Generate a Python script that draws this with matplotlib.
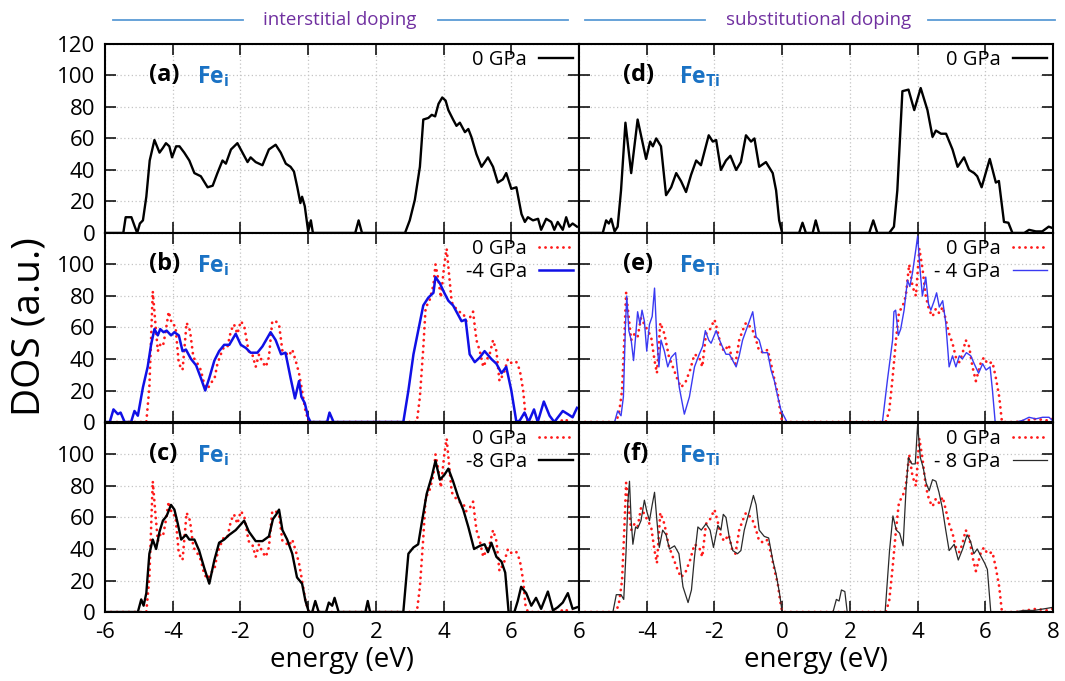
import matplotlib
matplotlib.use('Agg')
import matplotlib.pyplot as plt
from matplotlib.lines import Line2D

plt.rcParams['font.family'] = ['Open Sans', 'DejaVu Sans']
plt.rcParams['mathtext.fontset'] = 'custom'
plt.rcParams['mathtext.rm'] = 'Open Sans'
plt.rcParams['mathtext.bf'] = 'Open Sans:bold'

# DOS curves, (energy eV, DOS a.u.)
fei_0gpa_a = [(-6.0, 0), (-5.46, 0), (-5.39, 10), (-5.22, 10), (-5.12, 4), (-5.05, 0), (-4.97, 6), (-4.88, 8),
              (-4.78, 23), (-4.68, 46), (-4.54, 59), (-4.39, 51), (-4.29, 54), (-4.2, 57), (-4.1, 55), (-4.02, 48),
              (-3.9, 55), (-3.8, 55), (-3.66, 51), (-3.51, 46), (-3.36, 38), (-3.17, 36), (-2.97, 29), (-2.82, 30),
              (-2.68, 38), (-2.53, 46), (-2.43, 44), (-2.28, 53), (-2.09, 57), (-1.94, 51), (-1.79, 45), (-1.7, 48),
              (-1.55, 45), (-1.35, 43), (-1.16, 53), (-0.96, 56), (-0.81, 51), (-0.66, 44), (-0.52, 42), (-0.42, 39),
              (-0.32, 29), (-0.23, 19), (-0.18, 23), (-0.1, 17), (0.0, 1), (0.08, 8), (0.14, 0), (1.39, 0), (1.49, 8),
              (1.59, 0), (2.86, 0), (3.0, 8), (3.15, 21), (3.3, 42), (3.4, 72), (3.55, 73), (3.65, 75), (3.75, 74),
              (3.85, 82), (3.96, 86), (4.06, 84), (4.14, 78), (4.28, 72), (4.38, 68), (4.48, 70), (4.63, 64),
              (4.73, 66), (4.82, 61), (4.97, 50), (5.12, 42), (5.31, 48), (5.46, 42), (5.6, 32), (5.75, 34),
              (5.85, 38), (6.0, 28), (6.15, 29), (6.3, 12), (6.4, 7), (6.49, 10), (6.64, 8), (6.79, 9), (6.88, 2),
              (7.03, 9), (7.18, 7), (7.27, 2), (7.37, 7), (7.52, 2), (7.62, 10), (7.71, 4), (7.81, 6), (7.94, 4)]

fei_0gpa_ref = [(-6.0, 0), (-4.78, 0), (-4.69, 22), (-4.59, 83), (-4.51, 62), (-4.44, 45), (-4.37, 49), (-4.29, 48),
                (-4.22, 56), (-4.12, 70), (-4.02, 62), (-3.92, 61), (-3.82, 37), (-3.71, 33), (-3.59, 63), (-3.49, 58),
                (-3.39, 41), (-3.29, 38), (-3.17, 33), (-3.07, 24), (-2.97, 21), (-2.87, 25), (-2.77, 27), (-2.68, 37),
                (-2.58, 43), (-2.48, 48), (-2.38, 48), (-2.28, 58), (-2.19, 62), (-2.09, 56), (-1.99, 64), (-1.89, 61),
                (-1.76, 45), (-1.65, 43), (-1.55, 35), (-1.45, 43), (-1.35, 38), (-1.25, 35), (-1.16, 41), (-1.06, 64),
                (-0.96, 64), (-0.86, 62), (-0.76, 45), (-0.67, 44), (-0.57, 42), (-0.47, 46), (-0.37, 39), (-0.27, 31),
                (-0.18, 20), (-0.08, 7), (0.02, 0), (3.21, 0), (3.3, 16), (3.4, 47), (3.47, 73), (3.57, 76), (3.7, 87),
                (3.76, 100), (3.84, 91), (3.92, 79), (4.02, 100), (4.09, 110), (4.16, 94), (4.24, 76), (4.33, 73),
                (4.45, 70), (4.58, 69), (4.67, 64), (4.77, 66), (4.87, 70), (4.97, 52), (5.07, 45), (5.17, 35),
                (5.26, 39), (5.36, 43), (5.46, 52), (5.56, 45), (5.65, 26), (5.78, 31), (5.9, 40), (6.02, 37),
                (6.15, 38), (6.25, 33), (6.35, 20), (6.42, 4), (6.49, 0), (7.42, 0), (7.57, 2), (7.71, 0), (7.95, 0)]

fei_m4gpa = [(-6.0, 0), (-5.86, 0), (-5.75, 8), (-5.62, 5), (-5.54, 6), (-5.42, 0), (-5.23, 0), (-5.13, 7),
             (-5.03, 4), (-4.88, 22), (-4.74, 35), (-4.64, 49), (-4.54, 59), (-4.44, 55), (-4.37, 59), (-4.27, 57),
             (-4.18, 58), (-4.05, 55), (-3.95, 57), (-3.82, 55), (-3.71, 45), (-3.61, 46), (-3.46, 40), (-3.31, 36),
             (-3.17, 28), (-3.04, 20), (-2.92, 28), (-2.77, 39), (-2.63, 45), (-2.48, 49), (-2.33, 49), (-2.14, 56),
             (-1.99, 49), (-1.84, 47), (-1.7, 44), (-1.5, 44), (-1.35, 48), (-1.11, 57), (-0.96, 52), (-0.8, 43),
             (-0.67, 44), (-0.52, 28), (-0.39, 15), (-0.27, 26), (-0.2, 16), (-0.1, 12), (0.0, 3), (0.07, 0),
             (0.56, 0), (0.63, 6), (0.75, 0), (2.81, 0), (2.96, 20), (3.11, 43), (3.25, 58), (3.4, 74), (3.55, 79),
             (3.7, 82), (3.76, 92), (3.89, 88), (4.02, 82), (4.14, 77), (4.28, 74), (4.43, 68), (4.53, 64),
             (4.65, 65), (4.77, 43), (4.92, 38), (5.07, 41), (5.21, 45), (5.41, 40), (5.56, 37), (5.71, 31),
             (5.85, 35), (6.0, 20), (6.15, 0), (6.25, 1), (6.39, 6), (6.51, 0), (6.67, 8), (6.78, 0), (6.96, 13),
             (7.13, 4), (7.27, 0), (7.52, 7), (7.67, 5), (7.81, 3), (7.94, 9)]

fei_m8gpa = [(-6.0, 0), (-5.03, 0), (-4.93, 8), (-4.86, 4), (-4.78, 12), (-4.69, 37), (-4.59, 46), (-4.49, 40),
             (-4.39, 51), (-4.29, 58), (-4.18, 61), (-4.05, 68), (-3.95, 65), (-3.85, 56), (-3.75, 46), (-3.61, 49),
             (-3.51, 46), (-3.36, 46), (-3.22, 39), (-3.07, 28), (-2.92, 18), (-2.77, 33), (-2.63, 44), (-2.48, 46),
             (-2.33, 49), (-2.14, 52), (-1.89, 58), (-1.75, 51), (-1.55, 45), (-1.35, 45), (-1.16, 48), (-1.04, 59),
             (-0.94, 62), (-0.86, 65), (-0.76, 52), (-0.62, 46), (-0.47, 37), (-0.33, 22), (-0.18, 18), (-0.08, 7),
             (0.02, 0), (0.12, 0), (0.21, 7), (0.31, 0), (0.53, 0), (0.61, 6), (0.71, 4), (0.78, 9), (0.9, 0),
             (1.69, 0), (1.76, 7), (1.83, 0), (2.81, 0), (2.96, 37), (3.11, 41), (3.25, 43), (3.35, 56), (3.5, 75),
             (3.65, 86), (3.76, 96), (3.89, 84), (4.02, 87), (4.14, 91), (4.28, 83), (4.43, 73), (4.58, 65),
             (4.73, 54), (4.9, 40), (5.07, 42), (5.21, 43), (5.31, 38), (5.41, 44), (5.56, 35), (5.71, 32),
             (5.82, 25), (5.92, 0), (6.09, 0), (6.19, 7), (6.29, 16), (6.44, 12), (6.59, 4), (6.73, 9), (6.88, 2),
             (7.08, 13), (7.23, 1), (7.37, 3), (7.52, 6), (7.67, 12), (7.81, 2), (7.94, 3)]

feti_0gpa_d = [(-6.0, 0), (-5.3, 0), (-5.2, 8), (-5.12, 6), (-5.05, 9), (-4.95, 1), (-4.86, 4), (-4.76, 27),
               (-4.63, 70), (-4.46, 38), (-4.27, 72), (-4.14, 59), (-4.02, 47), (-3.9, 58), (-3.82, 55), (-3.72, 60),
               (-3.58, 55), (-3.43, 24), (-3.28, 29), (-3.13, 38), (-2.99, 33), (-2.84, 26), (-2.69, 37), (-2.54, 46),
               (-2.4, 43), (-2.17, 62), (-2.05, 58), (-1.95, 59), (-1.81, 40), (-1.66, 46), (-1.53, 49), (-1.36, 40),
               (-1.22, 45), (-1.07, 62), (-0.92, 58), (-0.82, 60), (-0.68, 42), (-0.48, 45), (-0.28, 38), (-0.18, 27),
               (-0.09, 8), (0.0, 0), (0.5, 0), (0.6, 6.5), (0.7, 0), (0.9, 0), (0.99, 8), (1.09, 0), (2.57, 0),
               (2.69, 8), (2.81, 0), (3.16, 0), (3.3, 4), (3.4, 27), (3.55, 90), (3.73, 91), (3.9, 78), (4.09, 92),
               (4.29, 78), (4.44, 61), (4.54, 65), (4.69, 63), (4.84, 63), (5.03, 53), (5.18, 42), (5.37, 48),
               (5.52, 40), (5.67, 38), (5.76, 36), (5.89, 29), (6.13, 47), (6.31, 32), (6.4, 33), (6.55, 7),
               (6.68, 6.5), (6.8, 0), (7.15, 0), (7.29, 2), (7.49, 1), (7.68, 1), (7.87, 4), (8.0, 3)]

feti_0gpa_ref = [(-6.0, 0), (-4.9, 0), (-4.81, 7), (-4.73, 20), (-4.66, 54), (-4.61, 82), (-4.53, 66), (-4.46, 52),
                 (-4.36, 56), (-4.27, 54), (-4.17, 66), (-4.07, 62), (-3.97, 58), (-3.87, 54), (-3.77, 39), (-3.7, 31),
                 (-3.6, 63), (-3.48, 56), (-3.35, 42), (-3.23, 35), (-3.11, 28), (-2.99, 22), (-2.86, 25), (-2.72, 33),
                 (-2.59, 43), (-2.45, 41), (-2.36, 35), (-2.25, 56), (-2.15, 58), (-2.0, 65), (-1.91, 58), (-1.81, 48),
                 (-1.71, 45), (-1.58, 49), (-1.48, 40), (-1.38, 37), (-1.27, 52), (-1.17, 58), (-1.07, 63), (-0.97, 61),
                 (-0.87, 58), (-0.77, 52), (-0.68, 45), (-0.53, 44), (-0.43, 46), (-0.33, 37), (-0.2, 24), (-0.13, 18),
                 (-0.06, 7), (0.0, 0), (3.06, 0), (3.16, 7), (3.26, 28), (3.36, 52), (3.45, 70), (3.55, 73), (3.65, 80),
                 (3.75, 100), (3.85, 86), (3.95, 80), (4.05, 110), (4.14, 98), (4.24, 80), (4.34, 71), (4.44, 67),
                 (4.54, 72), (4.64, 69), (4.74, 73), (4.83, 65), (4.93, 56), (5.03, 50), (5.13, 41), (5.23, 38),
                 (5.32, 43), (5.42, 52), (5.52, 48), (5.62, 35), (5.72, 26), (5.87, 38), (5.96, 41), (6.06, 37),
                 (6.21, 38), (6.31, 28), (6.41, 16), (6.49, 0), (6.9, 0), (7.2, 1), (7.5, 2), (7.8, 1), (7.98, 2)]

feti_m4gpa = [(-6.0, 0), (-4.95, 0), (-4.86, 7), (-4.76, 4), (-4.69, 16), (-4.63, 61), (-4.59, 80), (-4.53, 58),
              (-4.46, 52), (-4.39, 39), (-4.33, 54), (-4.27, 70), (-4.2, 62), (-4.14, 71), (-4.07, 64), (-4.0, 45),
              (-3.92, 62), (-3.84, 67), (-3.77, 85), (-3.7, 52), (-3.64, 35), (-3.58, 52), (-3.48, 45), (-3.38, 35),
              (-3.28, 41), (-3.15, 44), (-3.04, 22), (-2.89, 5), (-2.74, 16), (-2.59, 35), (-2.45, 43), (-2.35, 48),
              (-2.27, 58), (-2.17, 52), (-2.1, 50), (-1.95, 58), (-1.85, 52), (-1.75, 47), (-1.66, 43), (-1.56, 43),
              (-1.46, 39), (-1.36, 35), (-1.27, 42), (-1.17, 52), (-1.07, 58), (-0.97, 64), (-0.87, 70), (-0.77, 54),
              (-0.68, 52), (-0.58, 44), (-0.43, 44), (-0.33, 33), (-0.23, 26), (-0.13, 16), (-0.03, 7), (0.07, 3),
              (0.14, 0), (2.96, 0), (3.11, 27), (3.26, 52), (3.3, 70), (3.35, 71), (3.43, 55), (3.5, 59), (3.6, 71),
              (3.7, 90), (3.77, 86), (3.85, 95), (3.95, 110), (4.0, 118), (4.07, 97), (4.14, 80), (4.24, 92),
              (4.32, 75), (4.39, 71), (4.49, 77), (4.56, 82), (4.64, 73), (4.74, 77), (4.83, 63), (4.93, 35),
              (5.03, 42), (5.13, 35), (5.23, 42), (5.32, 40), (5.44, 44), (5.57, 42), (5.67, 37), (5.8, 31),
              (5.92, 37), (6.02, 33), (6.14, 35), (6.21, 20), (6.29, 0), (6.9, 0), (7.1, 1), (7.29, 3), (7.49, 2),
              (7.69, 3), (7.88, 3), (7.98, 1)]

feti_m8gpa = [(-6.0, 0), (-5.0, 0), (-4.9, 11), (-4.76, 11), (-4.68, 8), (-4.61, 39), (-4.56, 69), (-4.51, 83),
              (-4.46, 58), (-4.41, 43), (-4.33, 54), (-4.27, 53), (-4.17, 58), (-4.07, 71), (-4.0, 64), (-3.92, 58),
              (-3.84, 68), (-3.77, 76), (-3.7, 58), (-3.63, 41), (-3.53, 52), (-3.43, 49), (-3.33, 40), (-3.18, 42),
              (-3.05, 37), (-2.93, 16), (-2.78, 6), (-2.68, 14), (-2.59, 35), (-2.49, 54), (-2.39, 52), (-2.25, 56),
              (-2.13, 52), (-2.03, 41), (-1.9, 55), (-1.81, 52), (-1.74, 62), (-1.66, 60), (-1.56, 47), (-1.46, 39),
              (-1.32, 37), (-1.22, 39), (-1.12, 52), (-0.97, 64), (-0.85, 74), (-0.77, 68), (-0.68, 52), (-0.53, 48),
              (-0.4, 47), (-0.28, 33), (-0.18, 24), (-0.08, 12), (0.0, 0), (1.5, 0), (1.6, 8), (1.68, 7), (1.75, 14),
              (1.85, 13), (1.92, 0), (3.04, 0), (3.17, 39), (3.27, 61), (3.37, 52), (3.47, 50), (3.57, 42),
              (3.66, 79), (3.73, 98), (3.83, 94), (3.93, 94), (4.0, 119), (4.08, 98), (4.16, 92), (4.25, 82),
              (4.34, 77), (4.44, 84), (4.54, 83), (4.63, 76), (4.73, 66), (4.83, 52), (4.93, 39), (5.08, 43),
              (5.2, 33), (5.33, 40), (5.46, 49), (5.56, 45), (5.66, 37), (5.76, 40), (5.88, 35), (5.98, 31),
              (6.06, 27), (6.16, 0), (6.84, 0), (7.14, 1), (7.43, 1), (7.73, 2), (8.0, 3)]

panel_tags = ['(a)', '(b)', '(c)', '(d)', '(e)', '(f)']
x_ticks = [-6, -4, -2, 0, 2, 4, 6, 8]
y_ticks = [0, 20, 40, 60, 80, 100, 120]

fig = plt.figure(figsize=(10.65, 6.81), dpi=100)

col_x = [0.0986, 0.5437]
row_y = [0.6579, 0.3803, 0.1013]
w, h = 0.4451, 0.2776

red = '#ff1a1a'
dot = (0, (0.05, 2.1))


def unzip(pts):
    return [p[0] for p in pts], [p[1] for p in pts]


axes = []
for c in range(2):
    for r in range(3):
        ax = fig.add_axes([col_x[c], row_y[r], w, h])
        ax.set_xlim(-6, 8)
        ax.set_ylim(0, 120)
        ax.set_xticks(x_ticks)
        ax.set_yticks(y_ticks)
        ax.grid(True, color='#c4c4c4', linestyle=(0, (1, 2)), linewidth=0.9)
        ax.set_axisbelow(True)
        ax.tick_params(direction='in', length=8, width=1.1, top=True, right=True, colors='black')
        ax.tick_params(axis='y', labelsize=16, pad=7)
        ax.tick_params(axis='x', labelsize=16, pad=7)
        for s in ax.spines.values():
            s.set_linewidth(1.5)
        if c == 0:
            if r == 0:
                ax.set_yticklabels([str(v) for v in y_ticks])
            else:
                ax.set_yticklabels([str(v) for v in y_ticks[:-1]] + [''])
        else:
            ax.set_yticklabels([])
        if r == 2:
            if c == 0:
                ax.set_xticklabels([str(v) for v in x_ticks[:-1]] + [''])
            else:
                ax.set_xticklabels(['6'] + [str(v) for v in x_ticks[1:]])
            ax.set_xlabel('energy (eV)', fontsize=20, labelpad=2)
        else:
            ax.set_xticklabels([])
        axes.append(ax)

ax_a, ax_b, ax_c, ax_d, ax_e, ax_f = axes

red_kw = dict(color=red, lw=2.0, ls=dot, dash_capstyle='round')
ax_a.plot(*unzip(fei_0gpa_a), color='black', lw=1.7, label='0 GPa')
ax_b.plot(*unzip(fei_0gpa_ref), label='0 GPa', **red_kw)
ax_b.plot(*unzip(fei_m4gpa), color='#1010e6', lw=1.8, label='-4 GPa')
ax_c.plot(*unzip(fei_0gpa_ref), label='0 GPa', **red_kw)
ax_c.plot(*unzip(fei_m8gpa), color='black', lw=1.7, label='-8 GPa')
ax_d.plot(*unzip(feti_0gpa_d), color='black', lw=1.7, label='0 GPa')
ax_e.plot(*unzip(feti_0gpa_ref), label='0 GPa', **red_kw)
ax_e.plot(*unzip(feti_m4gpa), color='#3a3af2', lw=1.0, label='- 4 GPa')
ax_f.plot(*unzip(feti_0gpa_ref), label='0 GPa', **red_kw)
ax_f.plot(*unzip(feti_m8gpa), color='#2a2a2a', lw=0.9, label='- 8 GPa')

for i, ax in enumerate(axes):
    ax.legend(loc='upper right', bbox_to_anchor=(1.0, 1.0), borderaxespad=0.0, borderpad=0.3,
              frameon=False, markerfirst=False, handlelength=1.7, handletextpad=0.6,
              labelspacing=0.15, fontsize=14.5)
    left = i < 3
    ax.text(0.093, 0.835, panel_tags[i], transform=ax.transAxes, fontsize=17,
            fontweight='bold', va='center', ha='left')
    ax.text(0.195 if left else 0.21, 0.825, r'Fe$_\mathbf{i}$' if left else r'Fe$_\mathbf{Ti}$',
            transform=ax.transAxes, fontsize=16.5, fontweight='bold', color='#1a72c4',
            va='center', ha='left')

fig.text(0.028, 0.521, 'DOS (a.u.)', rotation=90, fontsize=28, ha='center', va='center')

# header above the two columns
hdr_y = 1 - 20 / 681
for x0, x1 in [(113, 243), (438, 568), (585, 705), (928, 1055)]:
    fig.add_artist(Line2D([x0 / 1065, x1 / 1065], [hdr_y, hdr_y], color='#5b9bd5', lw=1.3))
fig.text(340 / 1065, hdr_y, 'interstitial doping', color='#7030a0', fontsize=13.5,
         ha='center', va='center')
fig.text(819 / 1065, hdr_y, 'substitutional doping', color='#7030a0', fontsize=13.5,
         ha='center', va='center')

fig.savefig('out.png', dpi=100)
